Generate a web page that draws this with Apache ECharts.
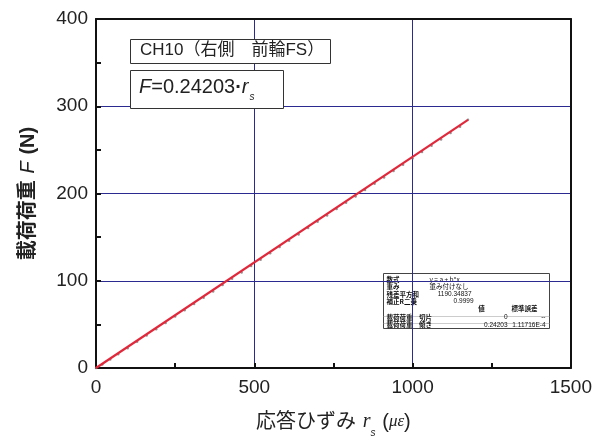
<!DOCTYPE html>
<html><head><meta charset="utf-8">
<script src="https://cdn.jsdelivr.net/npm/echarts@6/dist/echarts.min.js"></script>
<style>html,body{margin:0;padding:0;background:#fff}#c{width:595px;height:443px}</style>
</head><body><div id="c"></div>
<script>
// measured strain r_s (με)
const strain = [0, 20, 45, 70, 100, 130, 160, 190, 220, 250, 280, 310, 340, 370, 400, 430, 460, 490, 520, 550, 580, 610, 640, 670, 700, 730, 760, 790, 820, 850, 880, 910, 940, 970, 1000, 1030, 1060, 1090, 1120, 1150, 1175];
// applied load F (N)
const load = [0, 3.9, 9.6, 15.8, 22.6, 30.1, 37.2, 44.3, 51.6, 58.9, 66.2, 73.4, 80.6, 87.8, 95.2, 102.4, 109.5, 116.9, 124.1, 131.4, 138.6, 145.9, 153.1, 160.4, 167.6, 174.9, 182.1, 189.4, 196.6, 203.9, 211.1, 218.4, 225.7, 232.9, 240.2, 247.5, 254.7, 262.0, 269.3, 276.6, 284.6];
// fitted line F = 0.24203 * r_s
const fitX = [0, 1175];
const fitY = [0, 284.4];
const xTicks = [0, 500, 1000, 1500];
const yTicks = [0, 100, 200, 300, 400];

const scatter = strain.map((x, i) => [x, load[i]]);
const fit = fitX.map((x, i) => [x, fitY[i]]);

const chart = echarts.init(document.getElementById('c'), null, {renderer: 'canvas'});
const navy = '#2a2a90';
const cjk = '"Liberation Sans","Noto Sans CJK JP",sans-serif';
const frameAxis = {
  axisLine: {onZero: false, lineStyle: {color: '#111', width: 2}},
  axisTick: {show: false}, axisLabel: {show: false}, splitLine: {show: false}
};
chart.setOption({
  backgroundColor: '#fff',
  animation: false,
  grid: {left: 96, right: 22, top: 19, bottom: 75},
  xAxis: [{
    type: 'value', min: xTicks[0], max: xTicks[xTicks.length - 1], interval: 500,
    axisLine: {onZero: false, lineStyle: {color: '#111', width: 2}},
    axisTick: {inside: true, length: 5, lineStyle: {color: '#111', width: 2}},
    minorTick: {show: true, splitNumber: 2, length: 5, lineStyle: {color: '#111', width: 2}},
    splitLine: {show: true, lineStyle: {color: navy, width: 1}},
    axisLabel: {color: '#222', fontSize: 19, fontFamily: 'Liberation Sans', margin: 10, formatter: v => String(v)},
    name: '{t|応答ひずみ}  {i|r}{s|s}  {t|(}{m|με}{t|)}',
    nameLocation: 'middle', nameGap: 38,
    nameTextStyle: {
      rich: {
        t: {fontSize: 20, fontFamily: cjk, color: '#222'},
        i: {fontSize: 20, fontStyle: 'italic', fontFamily: 'Liberation Serif', color: '#222'},
        s: {fontSize: 10, fontStyle: 'italic', fontFamily: 'Liberation Sans', color: '#222', padding: [22, 0, 0, 0]},
        m: {fontSize: 17, fontStyle: 'italic', fontFamily: 'Liberation Serif', color: '#222'}
      }
    }
  }, Object.assign({type: 'value', position: 'top', min: 0, max: 1500}, frameAxis)],
  yAxis: [{
    type: 'value', min: yTicks[0], max: yTicks[yTicks.length - 1], interval: 100,
    axisLine: {onZero: false, lineStyle: {color: '#111', width: 2}},
    axisTick: {inside: true, length: 5, lineStyle: {color: '#111', width: 2}},
    minorTick: {show: true, splitNumber: 2, length: 5, lineStyle: {color: '#111', width: 2}},
    splitLine: {show: true, lineStyle: {color: navy, width: 1}},
    axisLabel: {color: '#222', fontSize: 19, fontFamily: 'Liberation Sans', margin: 8, formatter: v => String(v)},
    name: '{t|載荷荷重}  {i|F}  {t|(N)}',
    nameLocation: 'middle', nameGap: 58, nameRotate: 90,
    nameTextStyle: {
      rich: {
        t: {fontSize: 20, fontWeight: 'bold', fontFamily: cjk, color: '#222'},
        i: {fontSize: 20, fontStyle: 'italic', fontFamily: 'Liberation Sans', color: '#222'}
      }
    }
  }, Object.assign({type: 'value', position: 'right', min: 0, max: 400}, frameAxis)],
  series: [
    {type: 'scatter', data: scatter, symbolSize: 2.5, itemStyle: {color: '#777'}, z: 2},
    {type: 'line', data: fit, showSymbol: false, lineStyle: {color: '#e0283a', width: 2.2}, z: 3}
  ],
  graphic: [
    {type: 'rect', left: 130, top: 39, shape: {width: 200, height: 24}, style: {fill: '#fff', stroke: '#333', lineWidth: 1}, z: 10},
    {type: 'text', left: 140, top: 42, style: {text: 'CH10（右側　前輪FS）', font: '17px "Liberation Sans","Noto Sans CJK JP"', fill: '#222'}, z: 11},
    {type: 'rect', left: 130, top: 70, shape: {width: 153, height: 38}, style: {fill: '#fff', stroke: '#333', lineWidth: 1}, z: 10},
    {type: 'text', left: 139, top: 77, style: {
      text: '{i|F}{n|=0.24203}{b|·}{i|r}{s|s}',
      rich: {
        i: {font: 'italic 20px "Liberation Sans"', fill: '#222'},
        n: {font: '20px "Liberation Sans"', fill: '#222'},
        b: {font: 'bold 20px "Liberation Sans"', fill: '#222'},
        s: {font: 'italic 10px "Liberation Sans"', fill: '#222', padding: [20, 0, 0, 1]}
      }}, z: 11},
    {type: 'group', left: 381, top: 273, z: 10, children: [
      {type: 'rect', shape: {x: 0, y: 0, width: 166, height: 55}, style: {fill: '#fff', stroke: '#444', lineWidth: 1}},
      {type: 'line', shape: {x1: 0, y1: 43, x2: 166, y2: 43}, style: {stroke: '#aaa', lineWidth: 0.6}},
      {type: 'line', shape: {x1: 0, y1: 50, x2: 166, y2: 50}, style: {stroke: '#aaa', lineWidth: 0.6}},
      {type: 'text', x: 3, y: 2, style: {text: '数式\n重み\n残差平方和\n補正R二乗', font: 'bold 6.5px "Noto Sans CJK JP"', lineHeight: 7.5, fill: '#111'}},
      {type: 'text', x: 46, y: 2, style: {text: 'y = a + b*x\n重み付けなし', font: '6.5px "Noto Sans CJK JP"', lineHeight: 7.5, fill: '#111'}},
      {type: 'text', x: 88, y: 17, style: {text: '1190.34837', font: '6.5px "Liberation Sans"', align: 'right', fill: '#111'}},
      {type: 'text', x: 90, y: 24.5, style: {text: '0.9999', font: '6.5px "Liberation Sans"', align: 'right', fill: '#111'}},
      {type: 'text', x: 98, y: 32, style: {text: '値', font: 'bold 6.5px "Noto Sans CJK JP"', align: 'center', fill: '#111'}},
      {type: 'text', x: 141, y: 32, style: {text: '標準誤差', font: 'bold 6.5px "Noto Sans CJK JP"', align: 'center', fill: '#111'}},
      {type: 'text', x: 3, y: 40, style: {text: '載荷荷重　切片\n載荷荷重　傾き', font: 'bold 6.5px "Noto Sans CJK JP"', lineHeight: 7.5, fill: '#111'}},
      {type: 'text', x: 124, y: 40, style: {text: '0\n0.24203', font: '6.5px "Liberation Sans"', lineHeight: 7.5, align: 'right', fill: '#111'}},
      {type: 'text', x: 162, y: 40, style: {text: '--\n1.11716E-4', font: '6.5px "Liberation Sans"', lineHeight: 7.5, align: 'right', fill: '#111'}}
    ]}
  ]
});
</script></body></html>
